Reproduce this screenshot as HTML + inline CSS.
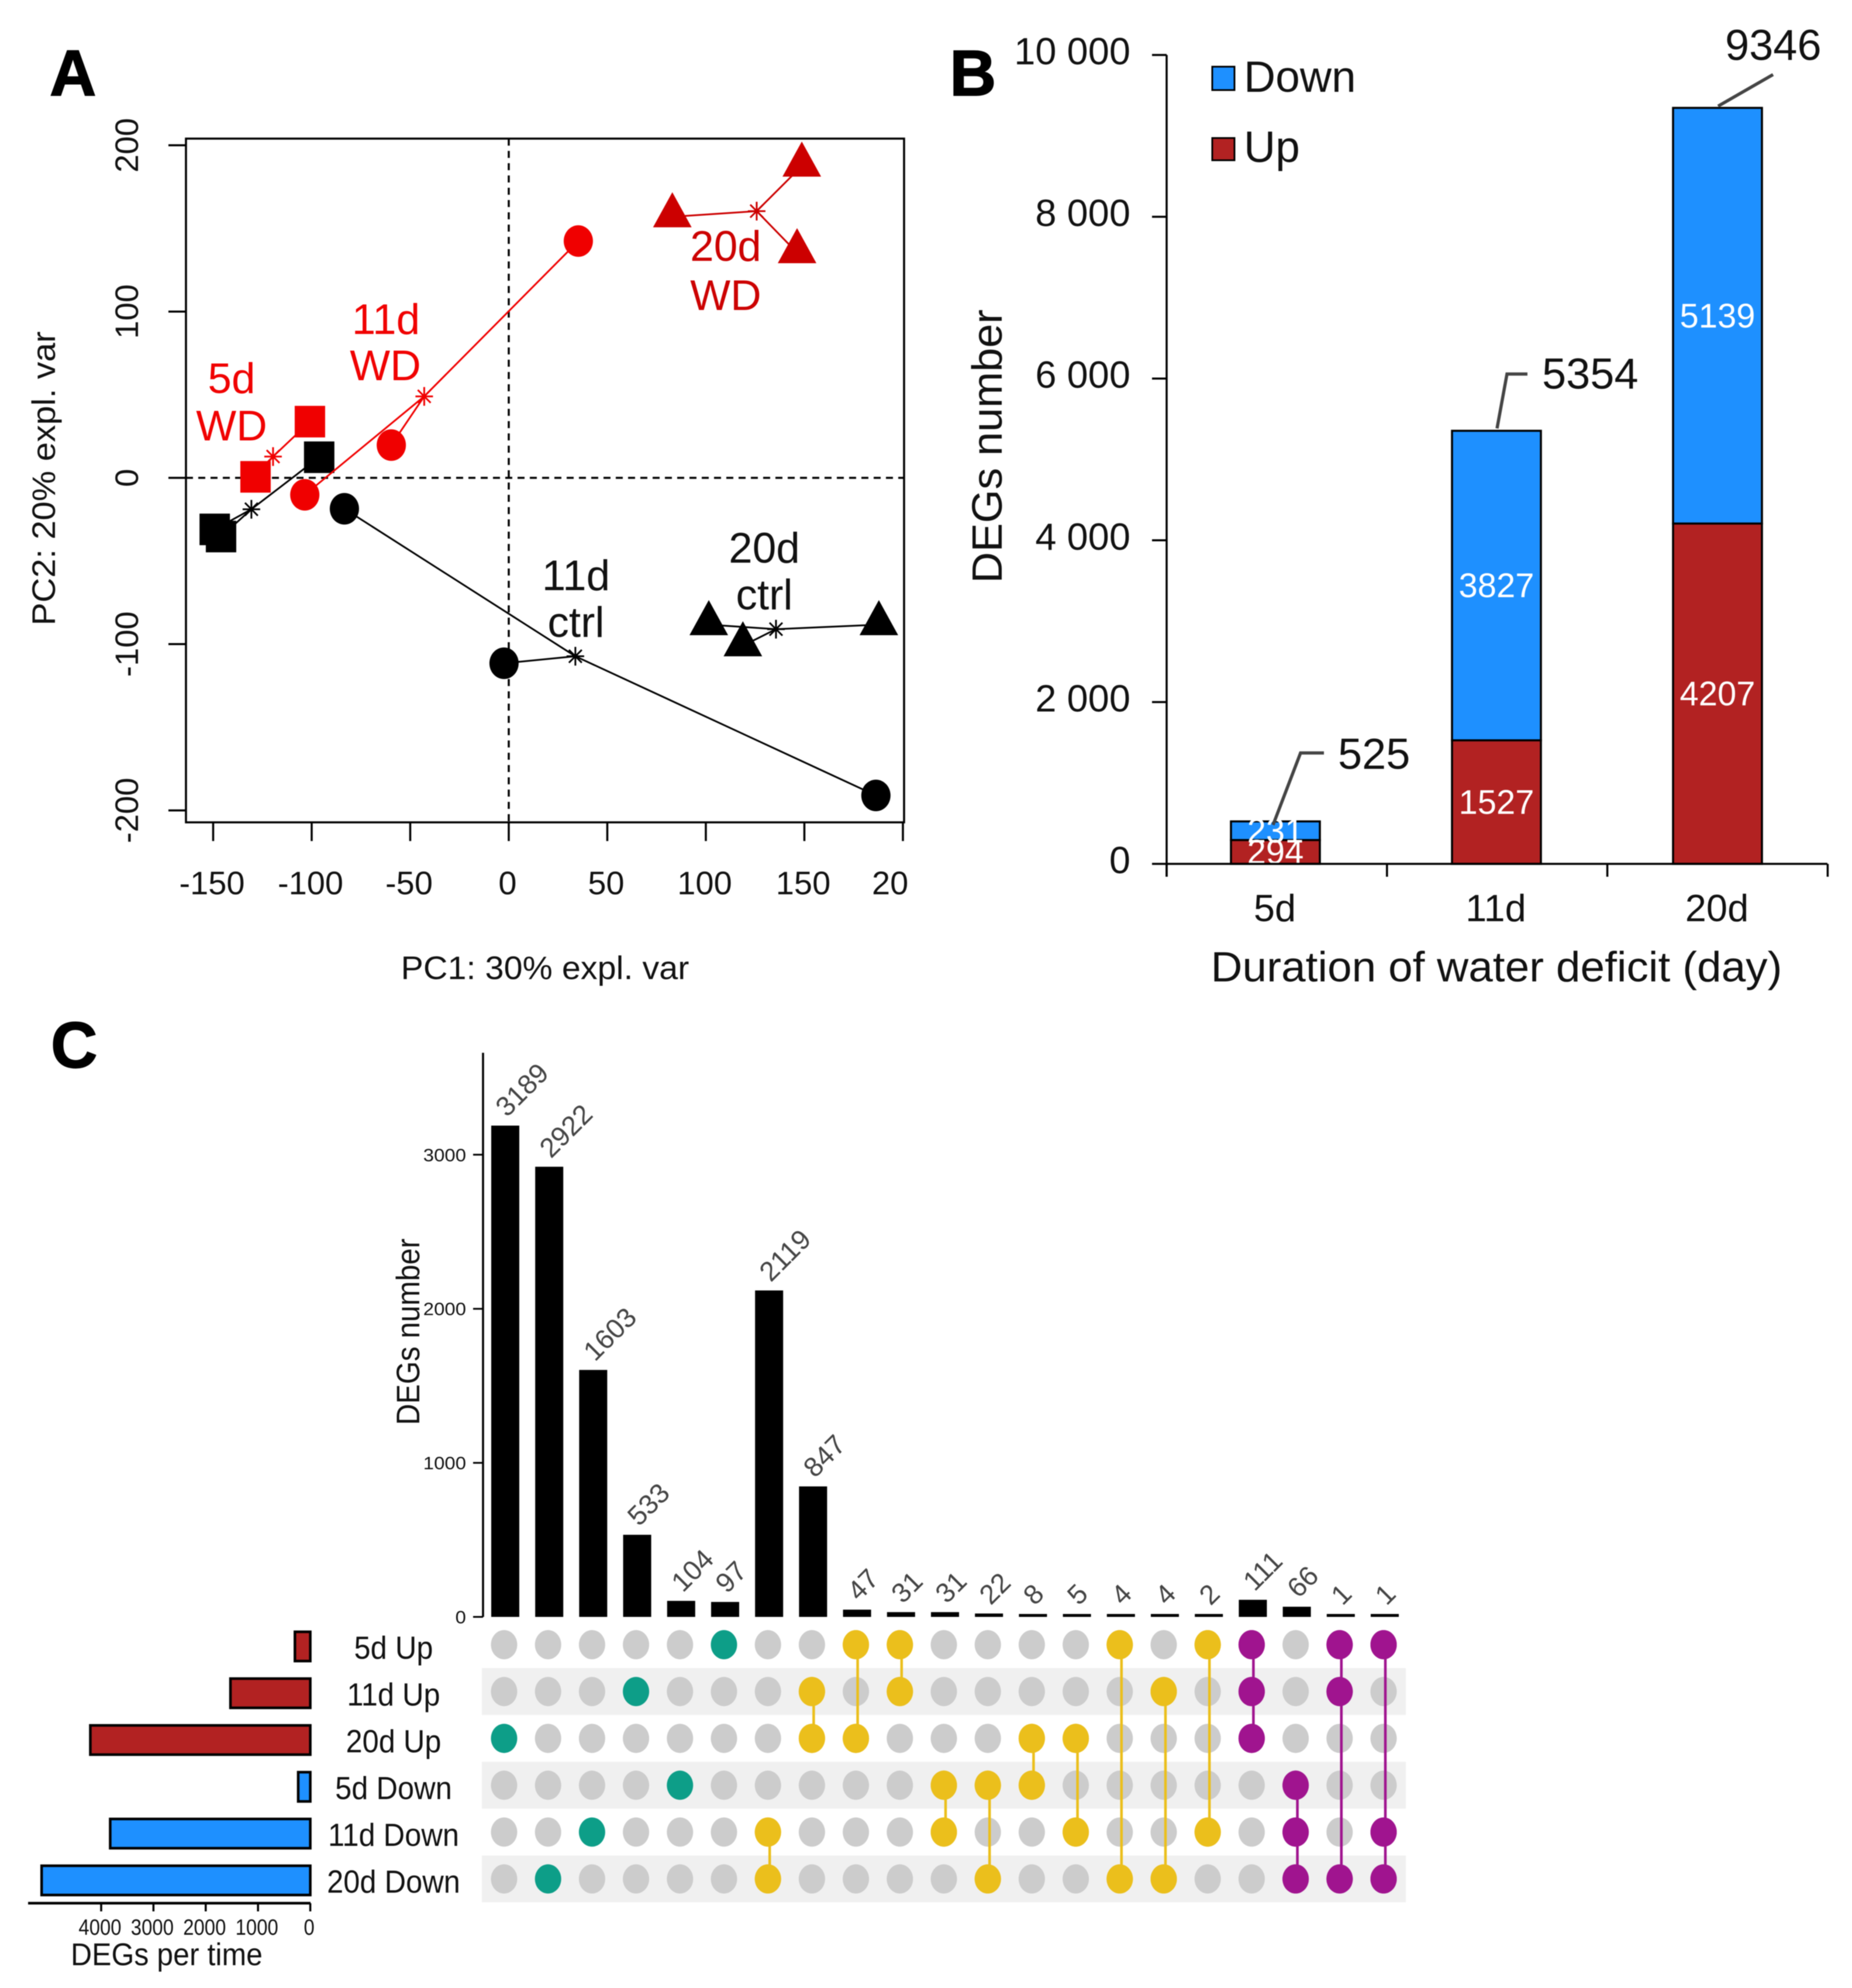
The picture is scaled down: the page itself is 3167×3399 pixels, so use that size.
<!DOCTYPE html>
<html lang="en">
<head>
<meta charset="utf-8">
<title>DEG analysis figure</title>
<style>
html,body{margin:0;padding:0;background:#fff;}
svg{display:block;filter:blur(0.8px);}
text{font-family:"Liberation Sans",Arial,sans-serif;fill:#111;}
</style>
</head>
<body>
<svg id="fig" xmlns="http://www.w3.org/2000/svg" width="3167" height="3399" viewBox="0 0 3167 3399">
  <rect x="0" y="0" width="3167" height="3399" fill="#fff"/>
  <g id="panelA"></g>
  <g id="panelB"></g>
  <g id="panelC"></g>

  <text x="85" y="163" font-size="110" font-weight="bold" style="fill:#000;stroke:#000;stroke-width:2">A</text>
  <text x="1624" y="163" font-size="110" font-weight="bold" style="fill:#000;stroke:#000;stroke-width:2">B</text>
  <text x="87" y="1825" font-size="110" font-weight="bold" style="fill:#000;stroke:#000;stroke-width:2">C</text>

  <text x="932" y="1674" font-size="56" text-anchor="middle" textLength="493" lengthAdjust="spacingAndGlyphs">PC1: 30% expl. var</text>
  <text x="94" y="818" font-size="56" text-anchor="middle" textLength="503" lengthAdjust="spacingAndGlyphs" transform="rotate(-90 94 818)">PC2: 20% expl. var</text>

  <text x="1713" y="763" font-size="72" text-anchor="middle" textLength="468" lengthAdjust="spacingAndGlyphs" transform="rotate(-90 1713 763)">DEGs number</text>
  <text x="2550" y="1678" font-size="72" text-anchor="middle" textLength="977" lengthAdjust="spacingAndGlyphs" dx="9">Duration of water deficit (day)</text>

  <rect x="2073" y="114" width="38" height="40" fill="#1e90ff" stroke="#000" stroke-width="3"/>
  <text x="2127" y="157" font-size="75">Down</text>
  <rect x="2073" y="236" width="38" height="38" fill="#b22222" stroke="#000" stroke-width="3"/>
  <text x="2127" y="277" font-size="75">Up</text>

  <text x="717" y="2277" font-size="56" text-anchor="middle" textLength="319" lengthAdjust="spacingAndGlyphs" transform="rotate(-90 717 2277)">DEGs number</text>
  <text x="285" y="3360" font-size="54" text-anchor="middle" textLength="328" lengthAdjust="spacingAndGlyphs">DEGs per time</text>
</svg>

<script>
// ---------- Panel A data ----------
const pcaGroups = ['5d ctrl', '5d WD', '11d ctrl', '11d WD', '20d ctrl', '20d WD'];
const pc1Values = [[-96.2, -149.2, -146], [-100.9, -128.5], [-83.4, -2.4, 186.3], [35.3, -59.6, -103.5], [101.5, 118.8, 187.8], [83, 148.7, 146.3]];
const pc2Values = [[12.4, -31, -35.3], [33.8, 0.6], [-18.6, -111.5, -191], [142.4, 19.7, -10.2], [-88.3, -101, -88.3], [157, 187.5, 135.4]];
const pc1Centers = [-130.6, -119.6, 33.8, -42.9, 135.6, 125.8];
const pc2Centers = [-18.9, 12.8, -107.3, 49, -91, 160.4];
const pcaXTicks = [-150, -100, -50, 0, 50, 100, 150, 200];
const pcaYTicks = [-200, -100, 0, 100, 200];

// ---------- Panel B data ----------
const durations = ['5d', '11d', '20d'];
const upCounts = [294, 1527, 4207];
const downCounts = [231, 3827, 5139];
const totalLabels = [525, 5354, 9346];
const barsYTicks = [0, 2000, 4000, 6000, 8000, 10000];
const barsYTickLabels = ['0', '2 000', '4 000', '6 000', '8 000', '10 000'];

// ---------- Panel C data ----------
const intersectionCounts = [3189, 2922, 1603, 533, 104, 97, 2119, 847, 47, 31, 31, 22, 8, 5, 4, 4, 2, 111, 66, 1, 1];
const intersectionMembers = [[2], [5], [4], [1], [3], [0], [4, 5], [1, 2], [0, 2], [0, 1], [3, 4], [3, 5], [2, 3], [2, 4], [0, 5], [1, 5], [0, 4], [0, 1, 2], [3, 4, 5], [0, 1, 5], [0, 4, 5]];
const setNames = ['5d Up', '11d Up', '20d Up', '5d Down', '11d Down', '20d Down'];
const setSizes = [294, 1527, 4207, 231, 3827, 5139];
const upsetYTicks = [0, 1000, 2000, 3000];
const setSizeTicks = [0, 1000, 2000, 3000, 4000];

// ---------- helpers ----------
const NS = 'http://www.w3.org/2000/svg';
function mk(parent, tag, attrs, txt) {
  const e = document.createElementNS(NS, tag);
  for (const k in attrs) e.setAttribute(k, attrs[k]);
  if (txt !== undefined) e.textContent = txt;
  parent.appendChild(e);
  return e;
}
const panelA = document.getElementById('panelA');
const panelB = document.getElementById('panelB');
const panelC = document.getElementById('panelC');

// ---------- Panel A ----------
const xA = v => 870 + 3.37 * v;
const yA = v => 817 - 2.843 * v;
const aLeft = 318, aRight = 1546, aTop = 237, aBottom = 1406;

const dashV = mk(panelA, 'line', {x1: xA(0), x2: xA(0), y1: aTop, y2: aBottom, stroke: '#000', 'stroke-width': 3.5, 'stroke-dasharray': '12 9'});


const dashH = mk(panelA, 'line', {x1: aLeft, x2: aRight, y1: yA(0), y2: yA(0), stroke: '#000', 'stroke-width': 3.5, 'stroke-dasharray': '12 9'});


const boxA = mk(panelA, 'rect', {x: aLeft, y: aTop, width: aRight - aLeft, height: aBottom - aTop, fill: 'none', stroke: '#000', 'stroke-width': 3.5});



pcaXTicks.forEach(t => {
  const tick = mk(panelA, 'line', {x1: xA(t), x2: xA(t), y1: aBottom, y2: aBottom + 32, stroke: '#000', 'stroke-width': 3.5});
  
  
  const isLast = t === 200;
  const lab = mk(panelA, 'text', {x: isLast ? 1491 : xA(t) - 2, y: 1529, 'font-size': 56, 'text-anchor': isLast ? 'start' : 'middle'}, isLast ? '20' : String(t));
  
  
});
pcaYTicks.forEach(t => {
  const tick = mk(panelA, 'line', {x1: aLeft - 30, x2: aLeft, y1: yA(t), y2: yA(t), stroke: '#000', 'stroke-width': 3.5});
  
  
  const lab = mk(panelA, 'text', {x: 236, y: yA(t), 'font-size': 56, 'text-anchor': 'middle', transform: `rotate(-90 236 ${yA(t)})`}, String(t));
  
  
});

function groupColor(g) {
  if (g === 5) return '#cc0000';
  return g % 2 === 1 ? '#f00000' : '#000';
}
function drawMarker(g, cx, cy, color) {
  const kind = Math.floor(g / 2);
  if (kind === 0) return mk(panelA, 'rect', {x: cx - 26, y: cy - 27, width: 52, height: 54, fill: color});
  if (kind === 1) return mk(panelA, 'ellipse', {cx: cx, cy: cy, rx: 25, ry: 27, fill: color});
  return mk(panelA, 'polygon', {points: `${cx},${cy - 42} ${cx + 33},${cy + 18} ${cx - 33},${cy + 18}`, fill: color});
}
pcaGroups.forEach((name, g) => {
  const color = groupColor(g);
  const cx = xA(pc1Centers[g]), cy = yA(pc2Centers[g]);
  pc1Values[g].forEach((v, i) => {
    const spoke = mk(panelA, 'line', {x1: cx, y1: cy, x2: xA(v), y2: yA(pc2Values[g][i]), stroke: color, 'stroke-width': 3});
    
    
  });
  pc1Values[g].forEach((v, i) => {
    const m = drawMarker(g, xA(v), yA(pc2Values[g][i]), color);
    
    
  });
  const star = mk(panelA, 'path', {d: `M${cx - 15} ${cy}H${cx + 15}M${cx} ${cy - 16}V${cy + 16}M${cx - 11} ${cy - 11}L${cx + 11} ${cy + 11}M${cx - 11} ${cy + 11}L${cx + 11} ${cy - 11}`, stroke: color, 'stroke-width': 3, fill: 'none'});
  
  
});

function groupLabel(x, y, str, color, name) {
  const t = mk(panelA, 'text', {x: x, y: y, 'font-size': 73, 'text-anchor': 'middle', style: 'fill:' + color}, str);
  
  
}
groupLabel(396, 672, '5d', '#f00000', 'label-5d-wd');
groupLabel(396, 753, 'WD', '#f00000', 'label-5d-wd');
groupLabel(660, 571, '11d', '#f00000', 'label-11d-wd');
groupLabel(659, 650, 'WD', '#f00000', 'label-11d-wd');
groupLabel(1241, 446, '20d', '#cc0000', 'label-20d-wd');
groupLabel(1241, 530, 'WD', '#cc0000', 'label-20d-wd');
groupLabel(985, 1009, '11d', '#111', 'label-11d-ctrl');
groupLabel(985, 1089, 'ctrl', '#111', 'label-11d-ctrl');
groupLabel(1307, 962, '20d', '#111', 'label-20d-ctrl');
groupLabel(1307, 1042, 'ctrl', '#111', 'label-20d-ctrl');

// ---------- Panel B ----------
const yB = v => 1477 - 0.1383 * v;
const xB = i => 2181 + 378 * i;
const bBarW = 152;

durations.forEach((d, i) => {
  const cx = xB(i);
  const up = upCounts[i], down = downCounts[i];
  const rectDown = mk(panelB, 'rect', {x: cx - bBarW / 2, y: yB(up + down), width: bBarW, height: yB(up) - yB(up + down), fill: '#1e90ff', stroke: '#000', 'stroke-width': 3.5});
  
  
  const rectUp = mk(panelB, 'rect', {x: cx - bBarW / 2, y: yB(up), width: bBarW, height: yB(0) - yB(up), fill: '#b22222', stroke: '#000', 'stroke-width': 3.5});
  
  
  const tDown = mk(panelB, 'text', {x: cx, y: yB(up + down / 2) + 20, 'font-size': 58, 'text-anchor': 'middle', style: 'fill:#fff'}, String(down));
  
  
  const tUp = mk(panelB, 'text', {x: cx, y: yB(up / 2) + 20, 'font-size': 58, 'text-anchor': 'middle', style: 'fill:#fff'}, String(up));
  
  
  const lab = mk(panelB, 'text', {x: cx - 1, y: 1575, 'font-size': 65, 'text-anchor': 'middle'}, d);
  
  

  const top = yB(up + down);
  const leader = [
    [[cx - 4, top + 6], [cx + 43, top - 117], [cx + 83, top - 117]],
    [[cx + 1, top - 4], [cx + 18, top - 97], [cx + 53, top - 97]],
    [[cx + 1, top - 3], [cx + 95, top - 57]]
  ][i];
  const lead = mk(panelB, 'polyline', {points: leader.map(p => p.join(',')).join(' '), fill: 'none', stroke: '#444', 'stroke-width': 5.5});
  
  
  const tp = [[cx + 107, top - 90], [cx + 78, top - 72], [cx + 13, top - 82]][i];
  const total = mk(panelB, 'text', {x: tp[0], y: tp[1], 'font-size': 74}, String(totalLabels[i]));
  
  
});

const bAxisY = mk(panelB, 'line', {x1: 1995, x2: 1995, y1: yB(10000), y2: yB(0) + 22, stroke: '#000', 'stroke-width': 3.5});


const bAxisX = mk(panelB, 'line', {x1: 1995, x2: 3125, y1: yB(0), y2: yB(0), stroke: '#000', 'stroke-width': 3.5});


[0, 1, 2, 3].forEach(i => {
  const sep = mk(panelB, 'line', {x1: 1995 + 376.8 * i, x2: 1995 + 376.8 * i, y1: yB(0), y2: yB(0) + 22, stroke: '#000', 'stroke-width': 3.5});
  
  
});
barsYTicks.forEach((t, i) => {
  const tick = mk(panelB, 'line', {x1: 1970, x2: 1995, y1: yB(t), y2: yB(t), stroke: '#000', 'stroke-width': 3.5});
  
  
  const lab = mk(panelB, 'text', {x: 1933, y: yB(t) + 16, 'font-size': 65, 'text-anchor': 'end'}, barsYTickLabels[i]);
  
  
});

// ---------- Panel C ----------
const yC = v => 2764.5 - 0.2634 * v;
const colX = i => 862 + 75.2 * i;
const rowY = r => 2812 + 80.1 * r;
const xS = v => 530.6 - 0.0894 * v;

[1, 3, 5].forEach(r => {
  const stripe = mk(panelC, 'rect', {x: 824, y: rowY(r) - 40, width: 1580, height: 80, fill: '#f0f0f0'});
  
  
});

const upsetAxis = mk(panelC, 'line', {x1: 826, x2: 826, y1: 1800, y2: yC(0), stroke: '#000', 'stroke-width': 3.5});


upsetYTicks.forEach(t => {
  const tick = mk(panelC, 'line', {x1: 809, x2: 826, y1: yC(t), y2: yC(t), stroke: '#000', 'stroke-width': 3});
  
  
  const s = String(t);
  const lab = mk(panelC, 'text', {x: 797, y: yC(t) + 11, 'font-size': 31, 'text-anchor': 'end', textLength: s.length * 18.3, lengthAdjust: 'spacingAndGlyphs'}, s);
  
  
});

function memberColor(n) {
  return n === 1 ? '#0d9e88' : n === 2 ? '#ebbf1c' : '#a0148f';
}
intersectionCounts.forEach((v, i) => {
  const cx = colX(i) + 2;
  const h = Math.max(yC(0) - yC(v), 5);
  const top = yC(0) - h;
  const bar = mk(panelC, 'rect', {x: cx - 24, y: top, width: 48, height: h, fill: '#000'});
  
  
  const lx = cx + 3, ly = top - 13;
  const lab = mk(panelC, 'text', {x: lx, y: ly, 'font-size': 47, transform: `rotate(-45 ${lx} ${ly})`, style: 'fill:#444'}, String(v));
  
  

  const members = intersectionMembers[i];
  const color = memberColor(members.length);
  setNames.forEach((s, r) => {
    const inSet = members.includes(r);
    const dot = mk(panelC, 'ellipse', {cx: colX(i), cy: rowY(r), rx: 22.5, ry: 25, fill: inSet ? color : '#cccccc'});
    
    
  });
});
// connector lines drawn over the grey dots, then active dots on top
intersectionCounts.forEach((v, i) => {
  const members = intersectionMembers[i];
  if (members.length < 2) return;
  const color = memberColor(members.length);
  const conn = mk(panelC, 'line', {x1: colX(i) + 3, x2: colX(i) + 3, y1: rowY(Math.min(...members)), y2: rowY(Math.max(...members)), stroke: color, 'stroke-width': 4.5});
  
  
  members.forEach(r => {
    const dot = mk(panelC, 'ellipse', {cx: colX(i), cy: rowY(r), rx: 22.5, ry: 25, fill: color});
    
    
  });
});

setNames.forEach((name, r) => {
  const cy = 2815 + 80 * r;
  const isUp = r < 3;
  const bar = mk(panelC, 'rect', {x: xS(setSizes[r]), y: cy - 25, width: xS(0) - xS(setSizes[r]), height: 50, fill: isUp ? '#b22222' : '#1e90ff', stroke: '#000', 'stroke-width': 4.5});
  
  
  const by = 2836 + 80 * r;
  const lab = mk(panelC, 'text', {'font-size': 55, 'text-anchor': 'middle', transform: `translate(673 ${by}) scale(0.92 1)`}, name);
  
  
});
const sAxis = mk(panelC, 'line', {x1: 48, x2: 531, y1: 3254, y2: 3254, stroke: '#000', 'stroke-width': 4.5});


setSizeTicks.forEach(t => {
  const tick = mk(panelC, 'line', {x1: xS(t), x2: xS(t), y1: 3254, y2: 3268, stroke: '#000', 'stroke-width': 3.5});
  
  
  const s = String(t);
  const lab = mk(panelC, 'text', {x: xS(t) - 2, y: 3308, 'font-size': 38, 'text-anchor': 'middle', textLength: s.length * 18.3, lengthAdjust: 'spacingAndGlyphs'}, s);
  
  
});
</script>
</body>
</html>
